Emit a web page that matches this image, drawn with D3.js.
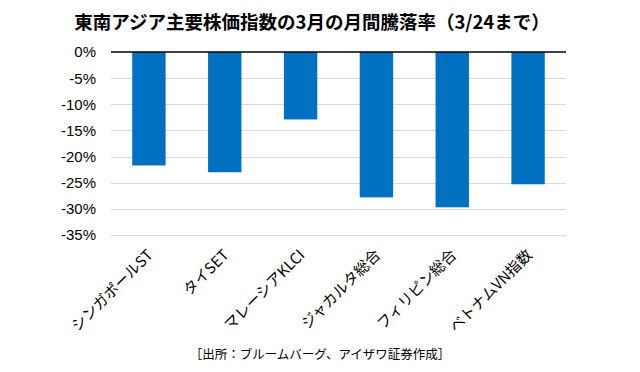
<!DOCTYPE html>
<html>
<head>
<meta charset="utf-8">
<script src="https://cdn.jsdelivr.net/npm/d3@7"></script>
<style>
  body { margin: 0; background: #fff; }
  svg { display: block; }
</style>
</head>
<body>
<svg id="chart"></svg>
<script>
var width = 640;
var height = 372;

// data
var categories = ["シンガポールST", "タイSET", "マレーシアKLCI", "ジャカルタ総合", "フィリピン総合", "ベトナムVN指数"];
var changes = [-21.7, -23.0, -12.9, -27.8, -29.7, -25.3];
var yTicks = [0, -5, -10, -15, -20, -25, -30, -35];

var titleText = "東南アジア主要株価指数の3月の月間騰落率（3/24まで）";
var sourceText = "［出所：ブルームバーグ、アイザワ証券作成］";

var jpFont = "'Noto Sans CJK JP', 'Noto Sans', sans-serif";
var numFont = "'Liberation Sans', Arial, sans-serif";

var margin = {top: 52, left: 111, right: 74, bottom: 137};

var svg = d3.select("#chart").attr("width", width).attr("height", height);

var x = d3.scaleBand()
    .domain(categories)
    .range([margin.left, width - margin.right])
    .paddingInner(0.56)
    .paddingOuter(0.28);

var y = d3.scaleLinear()
    .domain([0, -35])
    .range([margin.top, height - margin.bottom]);

// gridlines
svg.append("g").attr("class", "grid")
    .selectAll("line")
    .data(yTicks.filter(function(d) { return d != 0; }))
    .enter()
    .append("line")
    .attr("x1", margin.left)
    .attr("x2", width - margin.right)
    .attr("y1", function(d) { return Math.round(y(d)) + 0.5; })
    .attr("y2", function(d) { return Math.round(y(d)) + 0.5; })
    .attr("stroke", "#d9d9d9")
    .attr("stroke-width", 1);

// y labels
svg.append("g").attr("class", "ylabels")
    .selectAll("text")
    .data(yTicks)
    .enter()
    .append("text")
    .attr("x", 96)
    .attr("y", function(d) { return y(d); })
    .attr("dy", "0.36em")
    .attr("text-anchor", "end")
    .style("font-family", numFont)
    .style("font-size", "15px")
    .style("fill", "#000")
    .text(function(d) { return d + "%"; });

// bars
svg.append("g").attr("class", "bars")
    .selectAll("rect")
    .data(changes)
    .enter()
    .append("rect")
    .attr("x", function(d, i) { return x(categories[i]); })
    .attr("width", x.bandwidth())
    .attr("y", y(0))
    .attr("height", function(d) { return y(d) - y(0); })
    .attr("fill", "#0070c0");

// zero line
svg.append("line")
    .attr("x1", margin.left)
    .attr("x2", width - margin.right)
    .attr("y1", y(0))
    .attr("y2", y(0))
    .attr("stroke", "#000")
    .attr("stroke-width", 1.3);

// category labels, rotated
svg.append("g").attr("class", "xlabels")
    .selectAll("text")
    .data(categories)
    .enter()
    .append("text")
    .attr("transform", function(d) {
        var cx = x(d) + x.bandwidth() / 2 + 5;
        return "translate(" + cx + "," + 256 + ") rotate(-45)";
    })
    .attr("text-anchor", "end")
    .style("font-family", jpFont)
    .style("font-size", "15px")
    .style("fill", "#000")
    .text(function(d) { return d; });

// title
svg.append("text")
    .attr("x", 312)
    .attr("y", 29)
    .attr("text-anchor", "middle")
    .style("font-family", jpFont)
    .style("font-size", "18.5px")
    .style("font-weight", 700)
    .style("fill", "#000")
    .text(titleText);

// source
svg.append("text")
    .attr("x", 320)
    .attr("y", 359)
    .attr("text-anchor", "middle")
    .style("font-family", jpFont)
    .style("font-size", "12.5px")
    .style("fill", "#000")
    .text(sourceText);
</script>
</body>
</html>
